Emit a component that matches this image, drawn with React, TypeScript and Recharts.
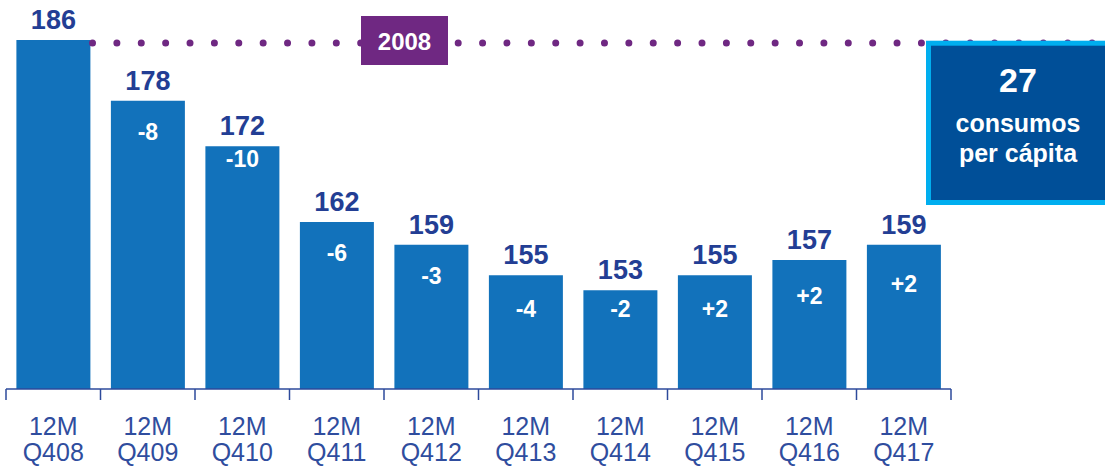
import React from 'react';
import { BarChart, Bar, XAxis, YAxis, ReferenceLine, LabelList } from 'recharts';

const periods = ['Q408', 'Q409', 'Q410', 'Q411', 'Q412', 'Q413', 'Q414', 'Q415', 'Q416', 'Q417'];
const consumption = [186, 178, 172, 162, 159, 155, 153, 155, 157, 159];
const changes = ['', '-8', '-10', '-6', '-3', '-4', '-2', '+2', '+2', '+2'];
const periodPrefix = '12M';
const referenceYear = '2008';
const perCapita = 27;
const perCapitaText = ['consumos', 'per cápita'];

const data = periods.map((p, i) => ({ period: p, value: consumption[i], change: changes[i] }));

const W = 1105;
const H = 467;
const MARGIN = { top: 40, right: 154, bottom: 0, left: 6 };
const BAND = (W - MARGIN.left - MARGIN.right) / periods.length;
const FONT = '"Liberation Sans", Arial, sans-serif';

// where the white change labels sit below each bar top
const changeDy = [0, 31, 13, 31, 31, 34, 19, 34, 36, 39];

const PeriodTick = (props: any) => {
  const { x, y, payload, index } = props;
  const left = x - BAND / 2;
  return (
    <g>
      <line x1={left} x2={left} y1={y} y2={y + 11} stroke="#2d4a9b" strokeWidth={1.5} />
      {index === periods.length - 1 && (
        <line x1={x + BAND / 2} x2={x + BAND / 2} y1={y} y2={y + 11} stroke="#2d4a9b" strokeWidth={1.5} />
      )}
      <text x={x} y={y + 46} textAnchor="middle" fill="#2f4d9e" fontSize={25} fontFamily={FONT}>
        {periodPrefix}
      </text>
      <text x={x} y={y + 72} textAnchor="middle" fill="#2f4d9e" fontSize={25} fontFamily={FONT}>
        {payload.value}
      </text>
    </g>
  );
};

const ChangeLabel = (props: any) => {
  const { x, y, width, value, index } = props;
  if (!value) return null;
  return (
    <text
      x={x + width / 2}
      y={y + changeDy[index]}
      textAnchor="middle"
      dominantBaseline="central"
      fill="#ffffff"
      fontSize={23}
      fontWeight="bold"
      fontFamily={FONT}
    >
      {value}
    </text>
  );
};

const DottedLine = (props: any) => {
  const { x1, y1 } = props;
  const y = y1 + 3;
  return (
    <g>
      <line
        x1={x1 + 86.5}
        x2={W}
        y1={y}
        y2={y}
        stroke="#6f2882"
        strokeWidth={7}
        strokeLinecap="round"
        strokeDasharray="0 24.38"
      />
      <rect x={x1 + 355} y={y - 27} width={87} height={49} fill="#6f2882" />
      <text
        x={x1 + 398.5}
        y={y - 2}
        textAnchor="middle"
        dominantBaseline="central"
        fill="#ffffff"
        fontSize={24}
        fontWeight="bold"
        fontFamily={FONT}
      >
        {referenceYear}
      </text>
    </g>
  );
};

export default function App() {
  return (
    <div style={{ position: 'absolute', left: 0, top: 0, width: W, height: H, background: '#fff' }}>
      <BarChart width={W} height={H} data={data} margin={MARGIN} barCategoryGap="11%">
        <XAxis
          dataKey="period"
          height={78}
          tickLine={false}
          tickSize={0}
          tickMargin={0}
          axisLine={{ stroke: '#2d4a9b', strokeWidth: 1.5 }}
          tick={<PeriodTick />}
          interval={0}
        />
        <YAxis hide domain={[140, 186]} />
        <ReferenceLine y={186} shape={<DottedLine />} ifOverflow="visible" />
        <Bar dataKey="value" fill="#1272bb" isAnimationActive={false}>
          <LabelList
            dataKey="value"
            position="top"
            offset={11}
            fill="#233e94"
            fontSize={27}
            fontWeight="bold"
            fontFamily={FONT}
          />
          <LabelList dataKey="change" content={<ChangeLabel />} />
        </Bar>
      </BarChart>
      <svg width={W} height={H} style={{ position: 'absolute', left: 0, top: 0, pointerEvents: 'none' }}>
        <rect x={928.5} y={43.2} width={184} height={159.3} fill="#004f98" stroke="#00aeef" strokeWidth={5} />
        <text x={1018} y={80} textAnchor="middle" dominantBaseline="central" fill="#fff" fontSize={34} fontWeight="bold" fontFamily={FONT}>
          {perCapita}
        </text>
        {perCapitaText.map((t, i) => (
          <text key={t} x={1018} y={123 + i * 30} textAnchor="middle" dominantBaseline="central" fill="#fff" fontSize={25} fontWeight="bold" fontFamily={FONT}>
            {t}
          </text>
        ))}
      </svg>
    </div>
  );
}
